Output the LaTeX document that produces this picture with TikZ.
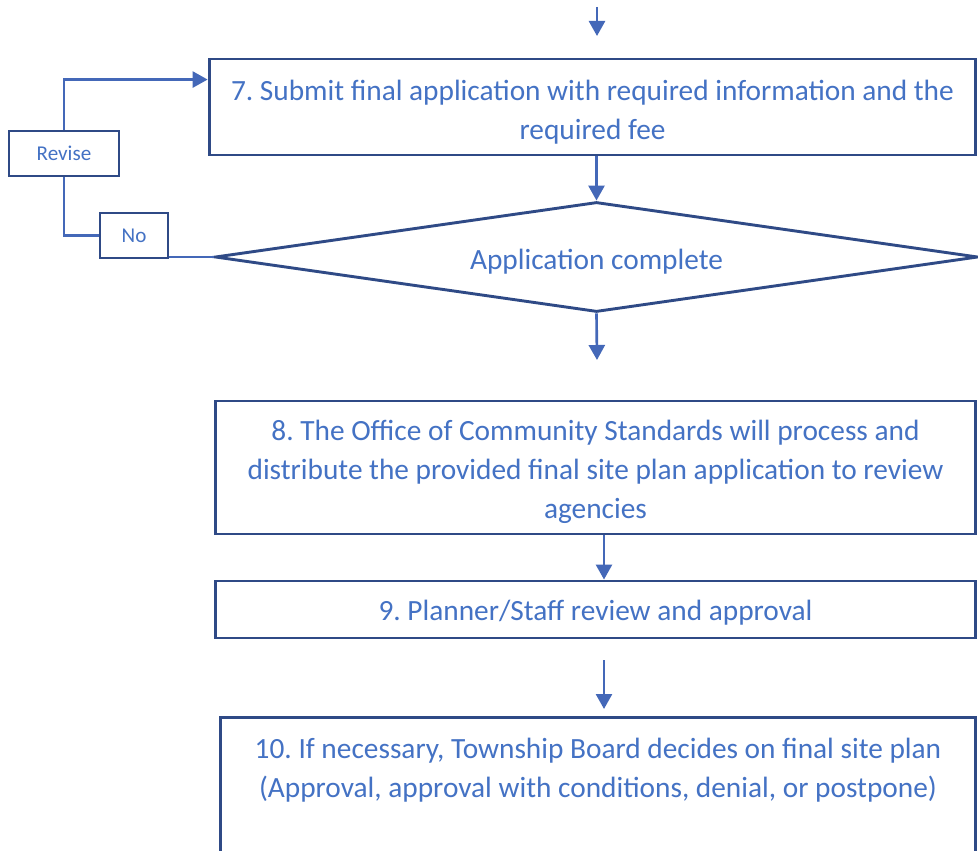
\documentclass[tikz,border=0pt]{standalone}
\usepackage{fontspec}
\setmainfont{Carlito}
\usetikzlibrary{shapes.geometric,arrows.meta}
\definecolor{txtblue}{HTML}{4472C4}
\definecolor{edgeblue}{HTML}{2F4A86}
\definecolor{linkblue}{HTML}{4468B8}
\frenchspacing
% invisible strut on the first line: sets the text a little below the box centre
\newcommand{\boxstrut}[1][17pt]{\rule{0pt}{#1}}
\tikzset{
  bodyfont/.style={font=\fontsize{16.7}{22.2}\selectfont},
  stepbox/.style={draw=edgeblue,line width=1.65pt,text=txtblue,align=center,
    bodyfont,inner sep=0pt},
  decision/.style={diamond,aspect=6.9,draw=edgeblue,line width=1.65pt,text=txtblue,
    bodyfont,inner sep=0pt},
  tagbox/.style={draw=edgeblue,line width=1.65pt,text=txtblue,
    font=\fontsize{12}{14}\selectfont,inner sep=0pt},
  link/.style={draw=linkblue,line width=1.5pt},
  arr/.style={link,-{Triangle[width=0.32cm,length=0.3cm]}},
}
\begin{document}
\begin{tikzpicture}[x=0.02cm,y=-0.02cm]
\clip (0,0) rectangle (978,851);
\fill[white] (0,0) rectangle (978,851);

% process steps
\node[stepbox,minimum width=15.34cm,minimum height=1.92cm] (b7) at (592.5,107)
  {\boxstrut 7. Submit final application with required information and the\\required fee};
\node[decision,minimum width=15.26cm,minimum height=2.2cm] (dia) at (596.5,257)
  {\boxstrut Application complete};
\node[stepbox,minimum width=15.22cm,minimum height=2.66cm] (b8) at (595.5,467.5)
  {\boxstrut 8. The Office of Community Standards will process and\\distribute the provided final site plan application to review\\agencies};
\node[stepbox,minimum width=15.22cm,minimum height=1.14cm] (b9) at (595.5,609.5)
  {\boxstrut[15pt]9. Planner/Staff review and approval};
\node[stepbox,anchor=north,minimum width=15.12cm,inner ysep=0.22cm,text depth=2.6cm] (b10) at (598,716)
  {\boxstrut 10. If necessary, Township Board decides on final site plan\\(Approval, approval with conditions, denial, or postpone)};

% loop-back labels
\node[tagbox,minimum width=2.2cm,minimum height=0.9cm] (rev) at (64,153.5) {Revise};
\node[tagbox,minimum width=1.36cm,minimum height=0.9cm] (no) at (134,235.5) {No};

% free connector ends
\coordinate (in7) at (597,7);
\coordinate (in7tip) at (597,36);
\coordinate (out8) at (597,360);
\coordinate (s10) at (604,660);
\coordinate (s10tip) at (604,709);

% main flow
\draw[arr] (in7) -- (in7tip);
\draw[arr] (b7.south -| dia.north) -- (dia.north);
\draw[arr] (dia.south) -- (out8);
\draw[arr] (b8.south -| s10) -- (b9.north -| s10);
\draw[arr] (s10) -- (s10tip);

% "No" branch back to step 7
\draw[link] (dia.west) -- (dia.west -| no.east);
\draw[link] (no.west) -- (no.west -| rev.south) -- (rev.south);
\draw[arr] (rev.north) |- ([yshift=-0.44cm]b7.north west);
\end{tikzpicture}
\end{document}
